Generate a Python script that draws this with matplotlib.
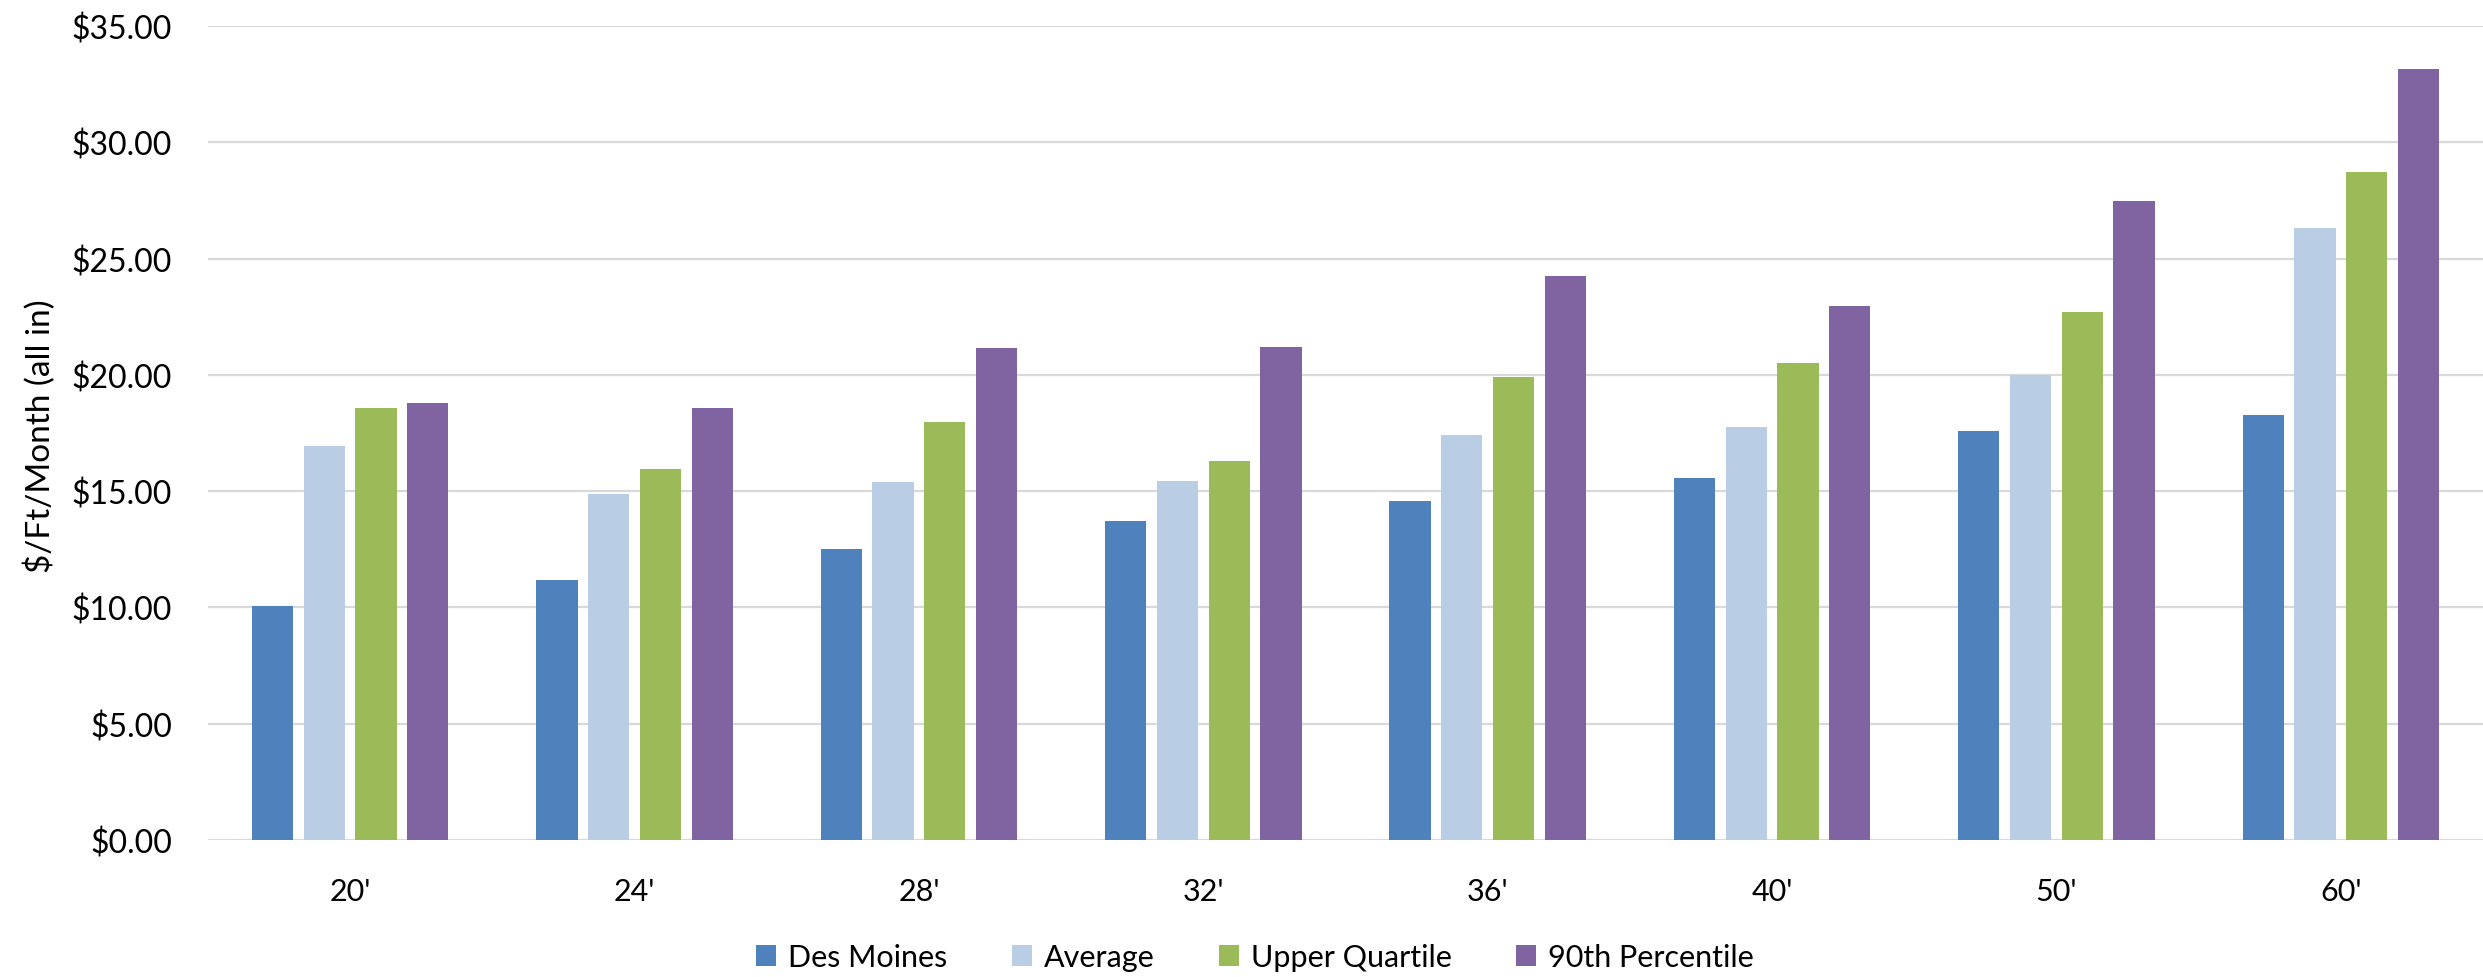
import matplotlib.pyplot as plt
import numpy as np

# boat slip sizes and monthly rates per foot
sizes = ["20'", "24'", "28'", "32'", "36'", "40'", "50'", "60'"]
des_moines = [10.04, 11.19, 12.52, 13.73, 14.57, 15.57, 17.60, 18.29]
average = [16.94, 14.86, 15.38, 15.43, 17.41, 17.77, 20.01, 26.31]
upper_quartile = [18.57, 15.97, 17.99, 16.29, 19.90, 20.51, 22.69, 28.74]
pct_90 = [18.79, 18.59, 21.16, 21.18, 24.27, 22.96, 27.47, 33.15]

series = [
    ('Des Moines', des_moines, '#4F81BD'),
    ('Average', average, '#B9CDE5'),
    ('Upper Quartile', upper_quartile, '#9BBB59'),
    ('90th Percentile', pct_90, '#8064A2'),
]

plt.rcParams['font.family'] = ['Lato', 'DejaVu Sans']

W, H = 2483, 978
fig = plt.figure(figsize=(W / 100, H / 100), dpi=100)
ax = fig.add_axes([208 / W, 1 - 841 / H, 1 - 208 / W, (841 - 27) / H])

x = np.arange(len(sizes))
bw = 0.145
step = 0.182
for i, (name, vals, col) in enumerate(series):
    ax.bar(x + (i - 1.5) * step, vals, width=bw, color=col, label=name, zorder=3)

ax.set_xlim(-0.5, 7.5)
ax.set_ylim(0, 35)
ticks = np.arange(0, 36, 5)
ax.set_yticks(ticks)
ax.set_yticklabels(['${:.2f}'.format(v) for v in ticks])
ax.set_xticks(x)
ax.set_xticklabels(sizes)
ax.tick_params(axis='y', length=0, pad=26, labelsize=23)
ax.tick_params(axis='x', length=0, pad=27, labelsize=22)
ax.grid(axis='y', color='#D9D9D9', linewidth=1.6, zorder=0)
for s in ax.spines.values():
    s.set_visible(False)

fig.text(40 / W, 1 - 436 / H, '$/Ft/Month (all in)', rotation=90,
         ha='center', va='center', fontsize=24)

fig.legend(loc='center', bbox_to_anchor=(1255 / W, 1 - 958 / H), ncol=4,
           frameon=False, fontsize=22,
           handlelength=0.65, handleheight=0.7, handletextpad=0.4,
           columnspacing=2.1)

fig.savefig('out.png', dpi=100)
